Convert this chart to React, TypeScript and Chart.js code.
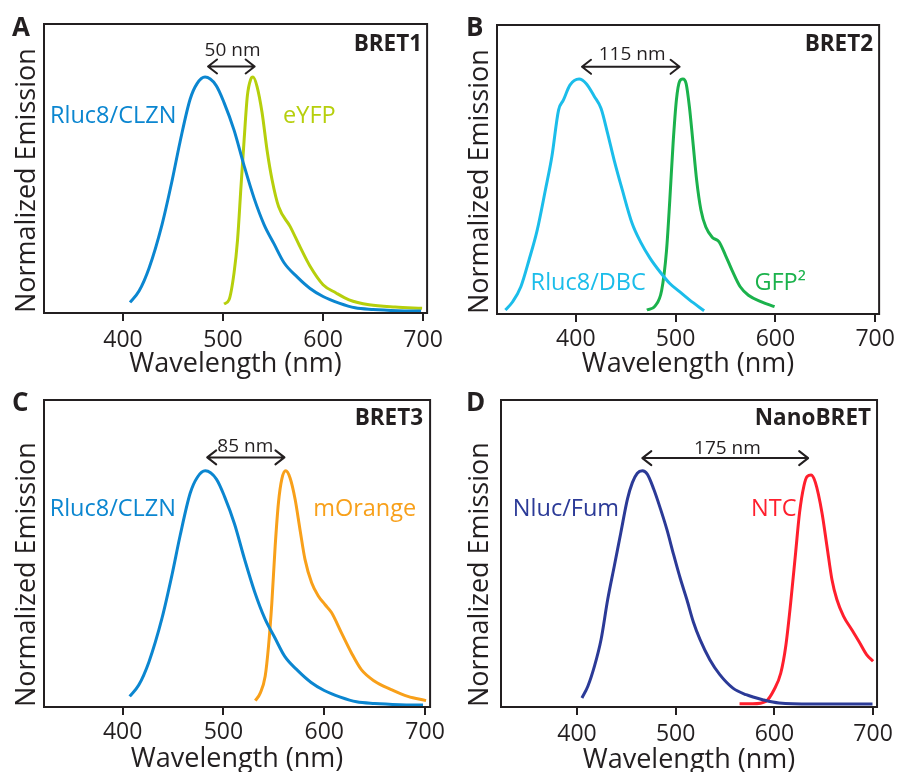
import React, { useEffect, useRef } from "react";
import { Chart, registerables } from "chart.js";

Chart.register(...registerables);

// ---------- data ----------
const TICK_NM = [400, 500, 600, 700];
const X_TITLE = "Wavelength (nm)";
const Y_TITLE = "Normalized Emission";

const RLUC8_CLZN_NM = [407, 416, 426, 439, 449, 457, 467, 474, 482, 493, 501, 511, 521, 531, 541, 551, 561, 574, 587, 600, 616, 632, 650, 675, 698];
const RLUC8_CLZN_EM = [0.045, 0.093, 0.19, 0.375, 0.56, 0.725, 0.905, 0.972, 1.0, 0.965, 0.892, 0.775, 0.625, 0.487, 0.375, 0.293, 0.213, 0.153, 0.104, 0.07, 0.042, 0.022, 0.015, 0.01, 0.008];

const EYFP_NM = [501, 506, 511, 514.5, 518, 521, 524.3, 527.6, 530, 534, 539, 544, 549, 555.6, 567, 577, 587, 600, 613, 626, 646, 672, 699];
const EYFP_EM = [0.038, 0.056, 0.17, 0.31, 0.54, 0.73, 0.92, 0.99, 1.0, 0.96, 0.85, 0.69, 0.565, 0.45, 0.367, 0.28, 0.198, 0.12, 0.085, 0.056, 0.035, 0.025, 0.02];

const RLUC8_DBC_NM = [329.4, 336.7, 344.9, 353.1, 361.3, 369.5, 376, 382.7, 387.5, 394.1, 403.3, 410.5, 418.7, 425.3, 431.8, 438.4, 446.6, 456.4, 464.7, 474.5, 484.3, 494.2, 504, 513.9, 528.6];
const RLUC8_DBC_EM = [0.017, 0.052, 0.116, 0.23, 0.357, 0.528, 0.67, 0.868, 0.91, 0.974, 1.0, 0.98, 0.925, 0.875, 0.77, 0.655, 0.528, 0.386, 0.308, 0.237, 0.18, 0.13, 0.095, 0.06, 0.014];

const GFP2_NM = [471.2, 479.4, 486, 490.9, 494.2, 497.5, 500.8, 504, 507.3, 510.6, 513.9, 517.2, 521.1, 525.4, 530.3, 536.9, 543.4, 550, 556.5, 564.8, 573, 586.1, 599.2];
const GFP2_EM = [0.017, 0.034, 0.1, 0.27, 0.485, 0.726, 0.91, 0.99, 1.0, 0.98, 0.88, 0.74, 0.57, 0.443, 0.37, 0.326, 0.308, 0.25, 0.187, 0.116, 0.08, 0.052, 0.031];

const MORANGE_NM = [531.6, 536.5, 541.4, 544.7, 548, 551.3, 554.6, 557.9, 561.8, 566.1, 571.1, 576, 580.9, 587.5, 594.1, 600.7, 607.2, 617.1, 627, 636.8, 650, 666.4, 682.9, 701];
const MORANGE_EM = [0.027, 0.059, 0.13, 0.257, 0.44, 0.68, 0.866, 0.965, 1.0, 0.97, 0.88, 0.75, 0.625, 0.526, 0.47, 0.434, 0.4, 0.314, 0.229, 0.158, 0.109, 0.074, 0.045, 0.027];

const NLUC_FUM_NM = [405, 411, 417.7, 424.4, 431.1, 437.8, 444.4, 451.1, 456.1, 461.1, 466.2, 471.2, 477.8, 484.5, 491.2, 497.9, 504.6, 511.3, 517.9, 524.6, 534.6, 544.7, 558, 571.4, 588.1, 604.8, 638.2, 699.4];
const NLUC_FUM_EM = [0.038, 0.088, 0.173, 0.286, 0.455, 0.597, 0.738, 0.88, 0.95, 0.99, 1.0, 0.986, 0.922, 0.84, 0.75, 0.645, 0.545, 0.455, 0.36, 0.286, 0.2, 0.137, 0.08, 0.052, 0.031, 0.017, 0.013, 0.013];

const NTC_NM = [564.7, 578.1, 591.4, 599.8, 606.5, 611.5, 616.5, 621.5, 625.5, 629.9, 633.2, 637.2, 641.6, 648.2, 653.3, 658.3, 663.3, 670, 678.3, 686.7, 693.4, 700];
const NTC_EM = [0.014, 0.014, 0.024, 0.074, 0.144, 0.257, 0.441, 0.653, 0.823, 0.936, 0.976, 0.982, 0.95, 0.823, 0.68, 0.54, 0.455, 0.385, 0.328, 0.27, 0.222, 0.194];

// ---------- styles ----------
const INK = "#231f20";
const FONT = '"Open Sans", "Noto Sans", sans-serif';
const BLUE = "#0b86d0";
const YELLOWGREEN = "#b6cf0c";
const CYAN = "#1bbdea";
const GREEN = "#1bb24c";
const ORANGE = "#f8a01a";
const NAVY = "#2b3a97";
const RED = "#ff1f2d";

const TICK_SIZE = 23;
const TITLE_SIZE = 27;
const LABEL_SIZE = 23.5;
const CORNER_SIZE = 22.5;
const ARROW_SIZE = 19;
const LETTER_SIZE = 26;

const zip = (xs: number[], ys: number[]) => xs.map((x, i) => ({ x, y: ys[i] }));

type Panel = {
  key: string;
  letter: string;
  corner: string;
  left: number; top: number; w: number; h: number;
  area: { left: number; right: number; top: number; bottom: number };
  xMin: number; xMax: number; yMax: number;
  tickPad: number; xTitlePad: number; yTitlePad: number;
  letterPos: [number, number];
  cornerOff: [number, number];
  series: { label: string; nm: number[]; em: number[]; color: string; lx: number; ly: number }[];
  arrow: { x1: number; x2: number; y: number; text: string; lx: number; ly: number };
};

const PANELS: Panel[] = [
  {
    key: "A", letter: "A", corner: "BRET1",
    left: 0, top: 0, w: 449, h: 386,
    area: { left: 44, right: 432, top: 24, bottom: 313 },
    xMin: 321, xMax: 704, yMax: 1.225,
    tickPad: 6, xTitlePad: 5, yTitlePad: 11,
    letterPos: [12, 36], cornerOff: [5, 27],
    series: [
      { label: "Rluc8/CLZN", nm: RLUC8_CLZN_NM, em: RLUC8_CLZN_EM, color: BLUE, lx: 327, ly: 0.84 },
      { label: "eYFP", nm: EYFP_NM, em: EYFP_EM, color: YELLOWGREEN, lx: 560, ly: 0.84 },
    ],
    arrow: { x1: 485, x2: 531.6, y: 1.045, text: "50 nm", lx: 509.5, ly: 1.12 },
  },
  {
    key: "B", letter: "B", corner: "BRET2",
    left: 449, top: 0, w: 450, h: 386,
    area: { left: 48, right: 436, top: 25, bottom: 314 },
    xMin: 321, xMax: 704, yMax: 1.23,
    tickPad: 4, xTitlePad: 5, yTitlePad: 15,
    letterPos: [17, 36], cornerOff: [6, 26],
    series: [
      { label: "Rluc8/DBC", nm: RLUC8_DBC_NM, em: RLUC8_DBC_EM, color: CYAN, lx: 354.7, ly: 0.138 },
      { label: "GFP²", nm: GFP2_NM, em: GFP2_EM, color: GREEN, lx: 579, ly: 0.138 },
    ],
    arrow: { x1: 406.2, x2: 504, y: 1.052, text: "115 nm", lx: 456.4, ly: 1.11 },
  },
  {
    key: "C", letter: "C", corner: "BRET3",
    left: 0, top: 386, w: 449, h: 400,
    area: { left: 44, right: 432, top: 14, bottom: 321 },
    xMin: 322, xMax: 705, yMax: 1.3,
    tickPad: 4, xTitlePad: 10, yTitlePad: 11,
    letterPos: [12, 25], cornerOff: [7, 25],
    series: [
      { label: "Rluc8/CLZN", nm: RLUC8_CLZN_NM, em: RLUC8_CLZN_EM, color: BLUE, lx: 327.6, ly: 0.844 },
      { label: "mOrange", nm: MORANGE_NM, em: MORANGE_EM, color: ORANGE, lx: 589, ly: 0.844 },
    ],
    arrow: { x1: 483.9, x2: 560.5, y: 1.057, text: "85 nm", lx: 521.7, ly: 1.109 },
  },
  {
    key: "D", letter: "D", corner: "NanoBRET",
    left: 449, top: 386, w: 450, h: 400,
    area: { left: 52, right: 432, top: 14, bottom: 321 },
    xMin: 323, xMax: 704, yMax: 1.3,
    tickPad: 6, xTitlePad: 9, yTitlePad: 15,
    letterPos: [17, 25], cornerOff: [6, 25],
    series: [
      { label: "Nluc/Fum", nm: NLUC_FUM_NM, em: NLUC_FUM_EM, color: NAVY, lx: 335, ly: 0.844 },
      { label: "NTC", nm: NTC_NM, em: NTC_EM, color: RED, lx: 576.4, ly: 0.844 },
    ],
    arrow: { x1: 466.2, x2: 634.2, y: 1.054, text: "175 nm", lx: 552.4, ly: 1.1 },
  },
];

function makeDecor(p: Panel) {
  return {
    id: "decor" + p.key,
    afterDraw(chart: any) {
      const { ctx, chartArea: a, scales } = chart;
      const px = (v: number) => scales.x.getPixelForValue(v);
      const py = (v: number) => scales.y.getPixelForValue(v);
      ctx.save();
      // frame
      ctx.strokeStyle = INK;
      ctx.lineWidth = 2;
      ctx.strokeRect(a.left, a.top, a.right - a.left, a.bottom - a.top);

      // arrow
      const ar = p.arrow;
      const x1 = px(ar.x1), x2 = px(ar.x2), ay = py(ar.y);
      ctx.lineWidth = 2;
      ctx.lineCap = "round";
      ctx.lineJoin = "round";
      ctx.beginPath();
      ctx.moveTo(x1, ay); ctx.lineTo(x2, ay);
      ctx.moveTo(x1 + 9, ay - 7); ctx.lineTo(x1, ay); ctx.lineTo(x1 + 9, ay + 7);
      ctx.moveTo(x2 - 9, ay - 7); ctx.lineTo(x2, ay); ctx.lineTo(x2 - 9, ay + 7);
      ctx.stroke();

      // arrow label
      ctx.fillStyle = INK;
      ctx.font = `${ARROW_SIZE}px ${FONT}`;
      ctx.textAlign = "center";
      ctx.textBaseline = "alphabetic";
      ctx.fillText(ar.text, px(ar.lx), py(ar.ly) + ARROW_SIZE * 0.36);

      // series labels
      ctx.textAlign = "left";
      ctx.font = `${LABEL_SIZE}px ${FONT}`;
      for (const s of p.series) {
        ctx.fillStyle = s.color;
        ctx.fillText(s.label, px(s.lx), py(s.ly) + LABEL_SIZE * 0.36);
      }

      // corner label
      ctx.fillStyle = INK;
      ctx.font = `bold ${CORNER_SIZE}px ${FONT}`;
      ctx.textAlign = "right";
      ctx.fillText(p.corner, a.right - p.cornerOff[0], a.top + p.cornerOff[1]);

      // panel letter
      ctx.font = `bold ${LETTER_SIZE}px ${FONT}`;
      ctx.textAlign = "left";
      ctx.fillText(p.letter, p.letterPos[0], p.letterPos[1]);
      ctx.restore();
    },
  };
}

function PanelChart({ p }: { p: Panel }) {
  const ref = useRef<HTMLCanvasElement | null>(null);
  useEffect(() => {
    if (!ref.current) return;
    const chart = new Chart(ref.current, {
      type: "line",
      data: {
        datasets: p.series.map((s) => ({
          label: s.label,
          data: zip(s.nm, s.em),
          borderColor: s.color,
          backgroundColor: s.color,
          borderWidth: 3,
          pointRadius: 0,
          fill: false,
          cubicInterpolationMode: "monotone" as const,
          borderJoinStyle: "round" as const,
        })),
      },
      options: {
        animation: false,
        responsive: false,
        maintainAspectRatio: false,
        devicePixelRatio: 1,
        events: [],
        layout: { padding: { left: 0, top: p.area.top, right: p.w - p.area.right, bottom: 0 } },
        plugins: { legend: { display: false }, tooltip: { enabled: false }, title: { display: false } },
        scales: {
          x: {
            type: "linear",
            min: p.xMin,
            max: p.xMax,
            afterFit: (s: any) => { s.height = p.h - p.area.bottom; },
            afterBuildTicks: (s: any) => { s.ticks = TICK_NM.map((v) => ({ value: v })); },
            grid: { display: true, drawOnChartArea: false, drawTicks: true, tickLength: 8, lineWidth: 2, color: INK },
            border: { display: false },
            ticks: { font: { family: FONT, size: TICK_SIZE }, color: INK, padding: p.tickPad, maxRotation: 0, autoSkip: false },
            title: { display: true, text: X_TITLE, color: INK, font: { family: FONT, size: TITLE_SIZE }, padding: { top: 0, bottom: p.xTitlePad } },
          },
          y: {
            type: "linear",
            min: 0,
            max: p.yMax,
            afterFit: (s: any) => { s.width = p.area.left; },
            grid: { display: false },
            border: { display: false },
            ticks: { display: false },
            title: { display: true, text: Y_TITLE, align: "start", color: INK, font: { family: FONT, size: TITLE_SIZE }, padding: { top: p.yTitlePad, bottom: 0 } },
          },
        },
      },
      plugins: [makeDecor(p)],
    } as any);
    return () => chart.destroy();
  }, [p]);
  return (
    <canvas
      ref={ref}
      width={p.w}
      height={p.h}
      style={{ position: "absolute", left: p.left, top: p.top, width: p.w, height: p.h }}
    />
  );
}

export default function App() {
  return (
    <div style={{ position: "absolute", left: 0, top: 0, width: 899, height: 772, overflow: "hidden", background: "#fff" }}>
      {PANELS.map((p) => (
        <PanelChart key={p.key} p={p} />
      ))}
    </div>
  );
}
